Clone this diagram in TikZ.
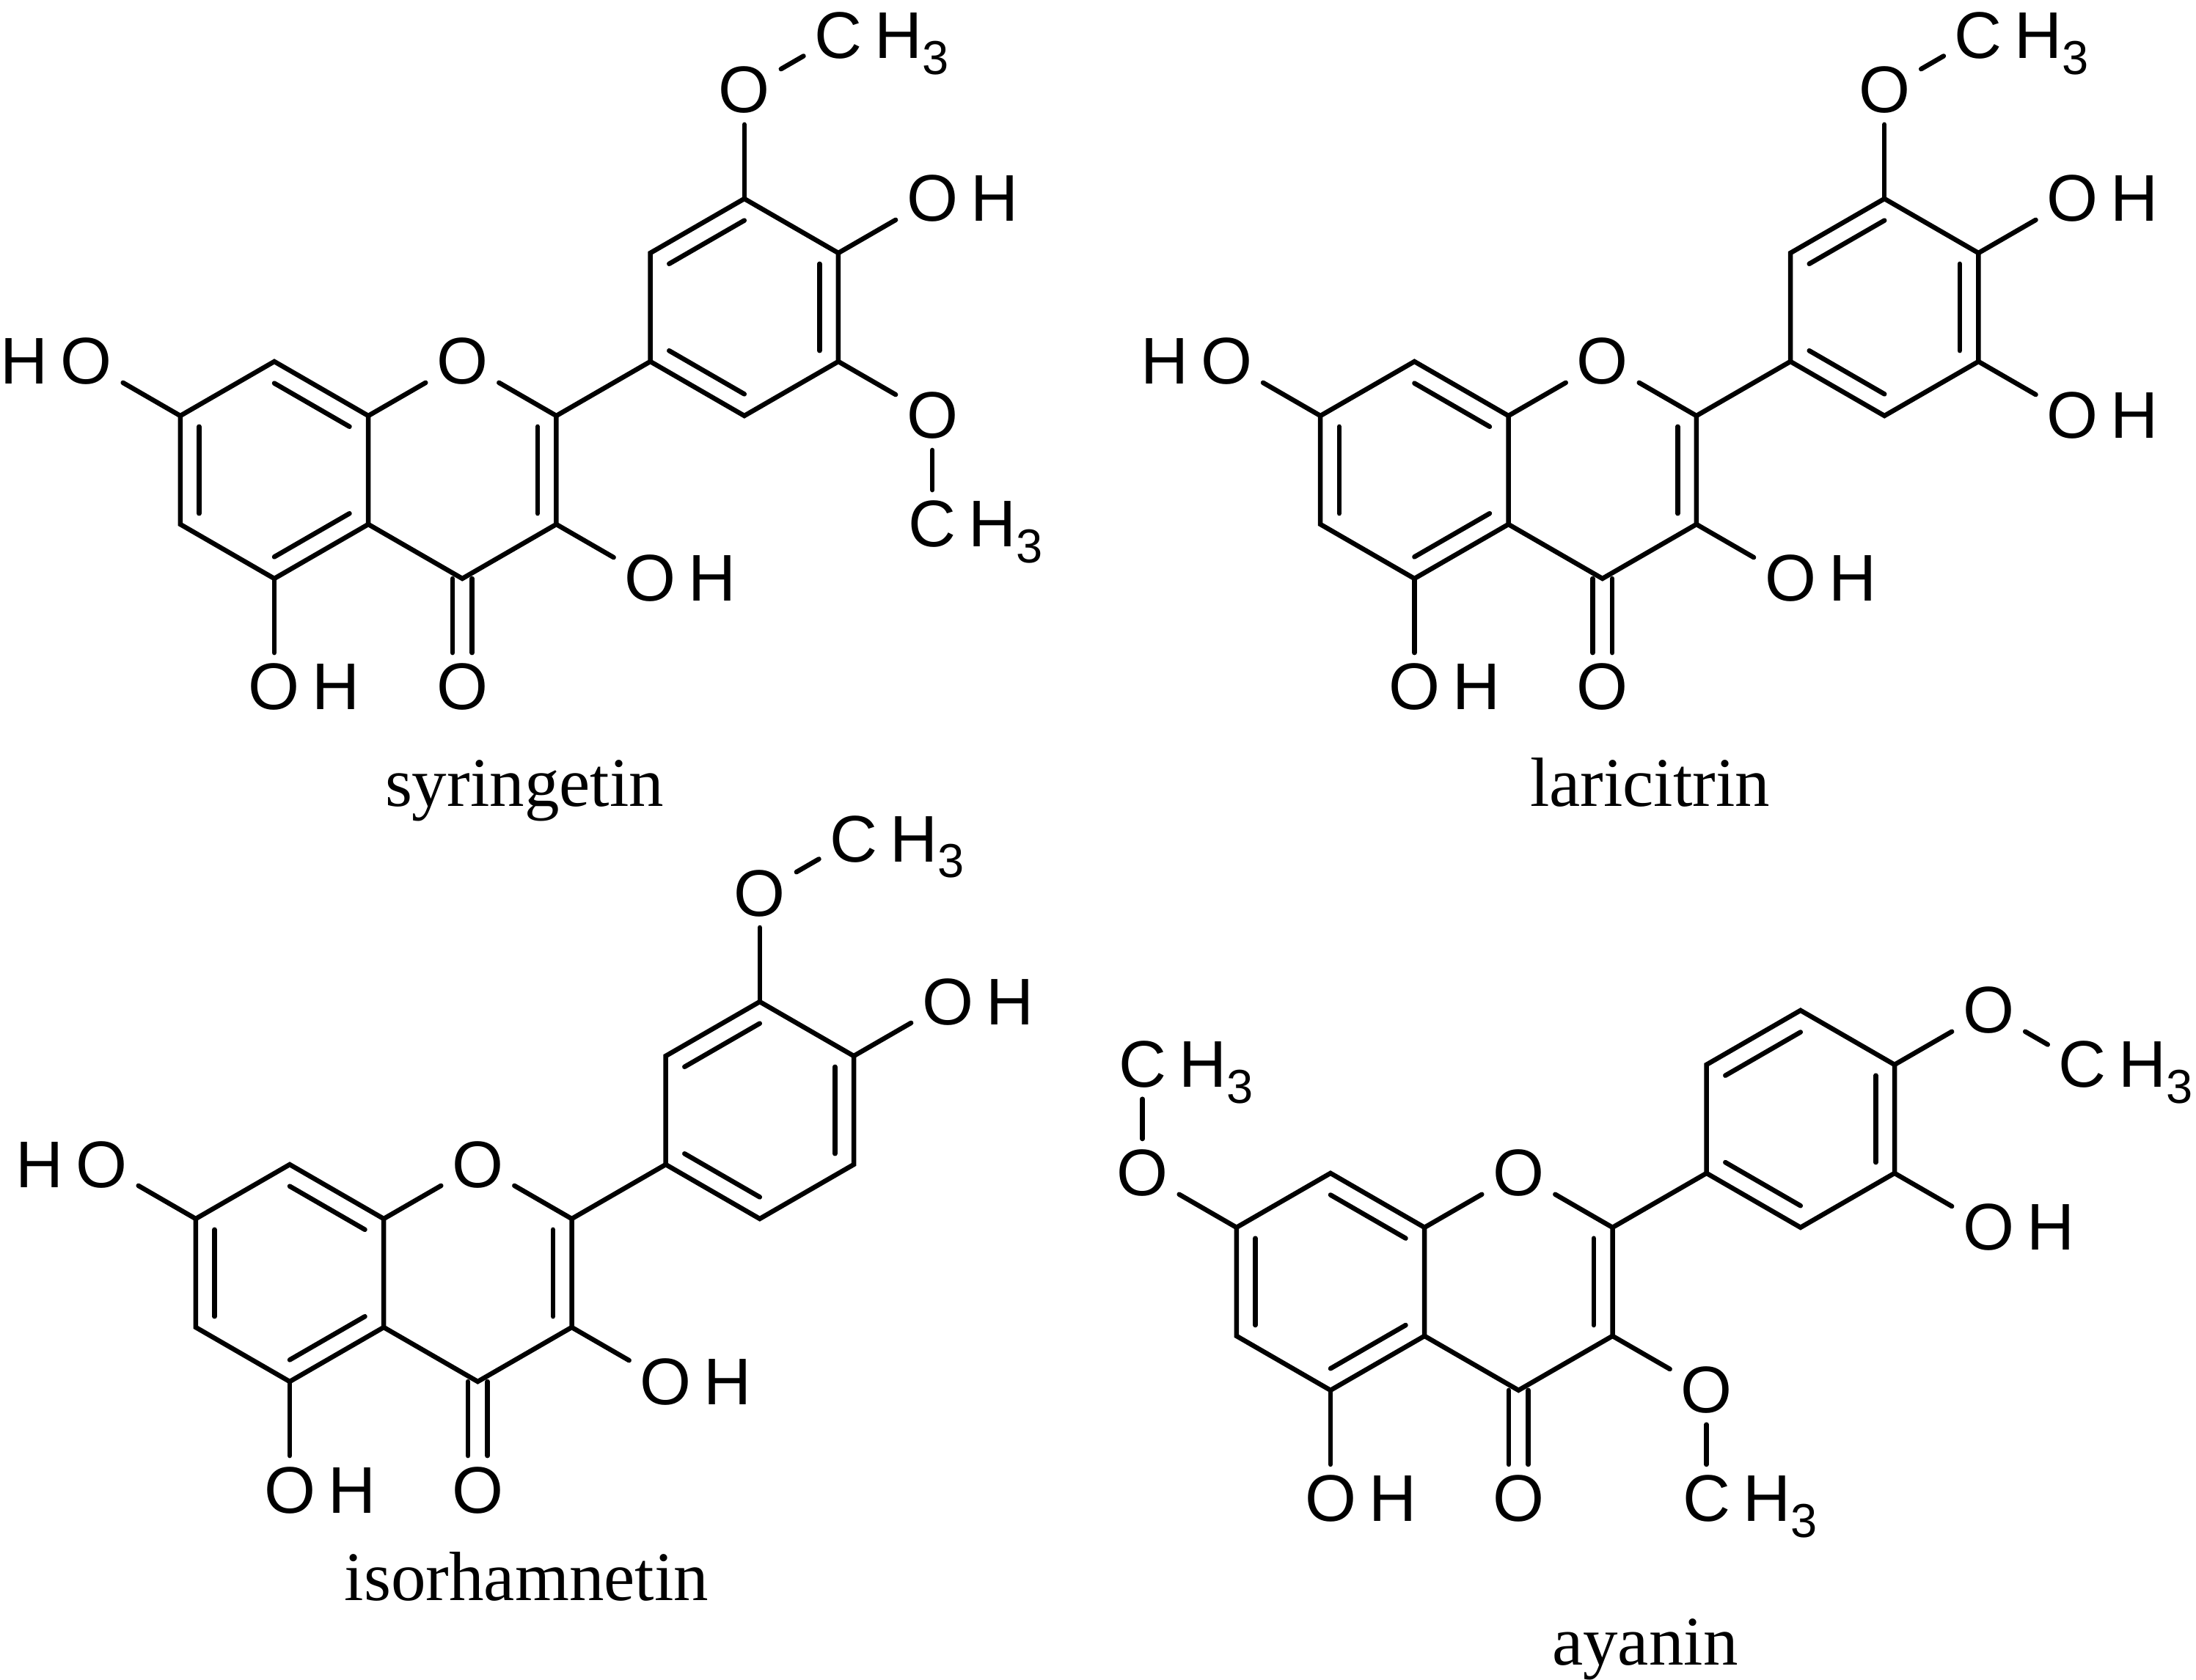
\documentclass[tikz,border=0pt]{standalone}
\usepackage{fontspec}
\setmainfont{Liberation Serif}
\newfontfamily\atomfont{Liberation Sans}
\usetikzlibrary{calc}
\tikzset{
  bond/.style={line width=0.65pt, line cap=round},
  atm/.style={inner sep=1.3pt, font=\atomfont\fontsize{9}{10}\selectfont},
  hh/.style={inner sep=0pt, font=\atomfont\fontsize{9}{10}\selectfont},
  molname/.style={anchor=base, inner sep=0pt, font=\fontsize{9.5}{11}\selectfont}
}
\newcommand\subthree{\raisebox{-0.45ex}{\fontsize{6.5}{7}\selectfont 3}}
\newcommand\dbl[3]{\draw[bond] ($(#3)!0.8!(#1)$) -- ($(#3)!0.8!(#2)$);}
\newcommand\flavcore[1]{%
  \coordinate (#1A1) at (0,1);
  \coordinate (#1A2) at (0.866,0.5);
  \coordinate (#1A3) at (0.866,-0.5);
  \coordinate (#1A4) at (0,-1);
  \coordinate (#1A5) at (-0.866,-0.5);
  \coordinate (#1A6) at (-0.866,0.5);
  \coordinate (#1C2) at (2.598,0.5);
  \coordinate (#1C3) at (2.598,-0.5);
  \coordinate (#1C4) at (1.732,-1);
  \coordinate (#1B1) at (3.464,1);
  \coordinate (#1B2) at (3.464,2);
  \coordinate (#1B3) at (4.33,2.5);
  \coordinate (#1B4) at (5.196,2);
  \coordinate (#1B5) at (5.196,1);
  \coordinate (#1B6) at (4.33,0.5);
  \coordinate (#1cA) at (0,0);
  \coordinate (#1cC) at (1.732,0);
  \coordinate (#1cB) at (4.33,1.5);
  \node[atm] (#1O1) at (1.732,1) {O};
  \node[atm] (#1O4) at (1.732,-2) {O};
  \node[atm] (#1O5) at (0,-2) {O};
  \node[hh,anchor=base west] (#1H5) at (#1O5.base east) {H};
  \draw[bond] (#1A1)--(#1A2)--(#1A3)--(#1A4)--(#1A5)--(#1A6)--cycle;
  \draw[bond] (#1A2)--(#1O1);
  \draw[bond] (#1O1)--(#1C2)--(#1C3)--(#1C4)--(#1A3);
  \draw[bond] (#1C2)--(#1B1);
  \draw[bond] (#1B1)--(#1B2)--(#1B3)--(#1B4)--(#1B5)--(#1B6)--cycle;
  \draw[bond] (#1A4)--(#1O5);
  \draw[bond] ($(#1C4)+(-0.09,0)$) -- ($(#1O4.north)+(-0.09,0)$);
  \draw[bond] ($(#1C4)+(0.09,0)$) -- ($(#1O4.north)+(0.09,0)$);
  \dbl{#1A1}{#1A2}{#1cA}
  \dbl{#1A3}{#1A4}{#1cA}
  \dbl{#1A5}{#1A6}{#1cA}
  \dbl{#1C2}{#1C3}{#1cC}
  \dbl{#1B2}{#1B3}{#1cB}
  \dbl{#1B4}{#1B5}{#1cB}
  \dbl{#1B6}{#1B1}{#1cB}
}
% O-H to the east
\newcommand\ohE[3]{\node[atm] (#1) at (#2) {O}; \node[hh,anchor=base west] (#1h) at (#1.base east) {H}; \draw[bond] (#3)--(#1);}
% H-O to the west
\newcommand\hoW[3]{\node[atm] (#1) at (#2) {O}; \node[hh,anchor=base east] (#1h) at (#1.base west) {H}; \draw[bond] (#3)--(#1);}
% O-CH3: name, O pos, CH3 pos, ring atom
\newcommand\ome[4]{\node[atm] (#1) at (#2) {O}; \node[atm] (#1c) at (#3) {C}; \node[hh,anchor=base west] (#1ch) at (#1c.base east) {H\subthree};
  \draw[bond] (#4)--(#1); \draw[bond] (#1)--(#1c);}
\begin{document}
\begin{tikzpicture}[x=14.8pt,y=14.8pt]
\useasboundingbox (0,0) rectangle (20.23,-15.48);
% syringetin
\begin{scope}[shift={(2.527,-4.331)}]
  \flavcore{s}
  \hoW{sO7}{-1.732,1}{sA6}
  \ohE{sO3}{3.464,-1}{sC3}
  \ome{sM3}{4.33,3.5}{5.196,4}{sB3}
  \ohE{sO4p}{6.062,2.5}{sB4}
  \ome{sM5}{6.062,0.5}{6.062,-0.5}{sB5}
\end{scope}
\node[molname] (n1) at (4.831,-7.432) {syringetin};
% laricitrin
\begin{scope}[shift={(13.03,-4.331)}]
  \flavcore{l}
  \hoW{lO7}{-1.732,1}{lA6}
  \ohE{lO3}{3.464,-1}{lC3}
  \ome{lM3}{4.33,3.5}{5.196,4}{lB3}
  \ohE{lO4p}{6.062,2.5}{lB4}
  \ohE{lO5p}{6.062,0.5}{lB5}
\end{scope}
\node[molname] (n2) at (15.20,-7.432) {laricitrin};
% isorhamnetin
\begin{scope}[shift={(2.669,-11.73)}]
  \flavcore{i}
  \hoW{iO7}{-1.732,1}{iA6}
  \ohE{iO3}{3.464,-1}{iC3}
  \ome{iM3}{4.33,3.5}{5.196,4}{iB3}
  \ohE{iO4p}{6.062,2.5}{iB4}
\end{scope}
\node[molname] (n3) at (4.851,-14.75) {isorhamnetin};
% ayanin
\begin{scope}[shift={(12.257,-11.81)}]
  \flavcore{a}
  \ome{aM7}{-1.732,1}{-1.732,2}{aA6}
  \ome{aM3}{3.464,-1}{3.464,-2}{aC3}
  \ome{aM4}{6.062,2.5}{6.928,2}{aB4}
  \ohE{aO5p}{6.062,0.5}{aB5}
\end{scope}
\node[molname] (n4) at (15.155,-15.34) {ayanin};
\end{tikzpicture}
\end{document}
